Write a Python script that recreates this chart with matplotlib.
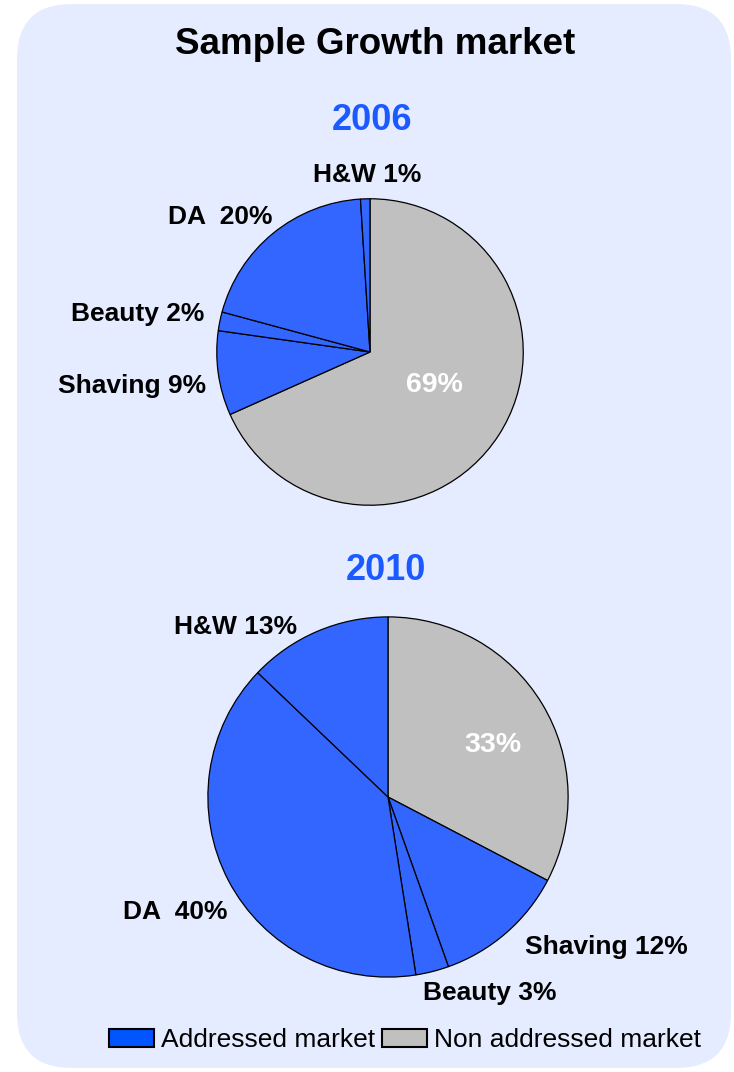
"""Sample Growth market: addressed vs non addressed market shares, 2006 and 2010."""
import matplotlib

matplotlib.use("Agg")
import matplotlib.pyplot as plt
from matplotlib.patches import FancyBboxPatch, Patch
from matplotlib.transforms import IdentityTransform

plt.rcParams["font.family"] = ["Liberation Sans", "DejaVu Sans"]

W, H = 734, 1072

# Slices, clockwise from 12 o'clock
SEGMENTS = ["Non addressed", "Shaving", "Beauty", "DA", "H&W"]
SHARE_2006 = [69, 9, 2, 20, 1]
SHARE_2010 = [33, 12, 3, 40, 13]
LABELS_2006 = ["69%", "Shaving 9%", "Beauty 2%", "DA  20%", "H&W 1%"]
LABELS_2010 = ["33%", "Shaving 12%", "Beauty 3%", "DA  40%", "H&W 13%"]
LEGEND_LABELS = ["Addressed market", "Non addressed market"]

BLUE = "#3366FF"
GRAY = "#C0C0C0"
LEGEND_BLUE = "#0055FF"
BG = "#E6ECFF"
YEAR_BLUE = "#1A5AFF"


def fx(x):
    return x / W


def fy(y):
    return 1 - y / H


def pie_axes(fig, cx, cy, r):
    ax = fig.add_axes([fx(cx - r), fy(cy + r), 2 * r / W, 2 * r / H])
    ax.axis("off")
    return ax


def draw_pie(ax, shares):
    colors = [GRAY] + [BLUE] * (len(shares) - 1)
    ax.pie(shares, colors=colors, startangle=90, counterclock=False,
           radius=1, wedgeprops=dict(edgecolor="black", linewidth=0.9))
    ax.set_xlim(-1.005, 1.005)
    ax.set_ylim(-1.005, 1.005)


fig = plt.figure(figsize=(W / 100, H / 100), dpi=100)
fig.patch.set_facecolor("white")

box = FancyBboxPatch((17, 4), 714, 1064,
                     boxstyle="round,pad=0,rounding_size=55",
                     facecolor=BG, edgecolor="none", zorder=-5,
                     transform=IdentityTransform())
fig.patches.append(box)

fig.text(fx(375), fy(45), "Sample Growth market", ha="center", va="center",
         fontsize=26.5, fontweight="bold", color="black")
fig.text(fx(372), fy(120), "2006", ha="center", va="center",
         fontsize=26, fontweight="bold", color=YEAR_BLUE)
fig.text(fx(386), fy(571), "2010", ha="center", va="center",
         fontsize=26, fontweight="bold", color=YEAR_BLUE)

ax1 = pie_axes(fig, 370, 352, 154)
draw_pie(ax1, SHARE_2006)
ax2 = pie_axes(fig, 388, 797, 181)
draw_pie(ax2, SHARE_2010)

lab = dict(fontsize=19, fontweight="bold", color="black", va="center")
inner = dict(fontsize=20.5, fontweight="bold", color="white",
             ha="center", va="center", zorder=10)

# 2006 labels
fig.text(fx(434), fy(385), LABELS_2006[0], **inner)
fig.text(fx(206), fy(386), LABELS_2006[1], ha="right", **lab)
fig.text(fx(204), fy(314), LABELS_2006[2], ha="right", **lab)
fig.text(fx(272), fy(217), LABELS_2006[3], ha="right", **lab)
fig.text(fx(367), fy(175), LABELS_2006[4], ha="center", **lab)

# 2010 labels
fig.text(fx(493), fy(745), LABELS_2010[0], **inner)
fig.text(fx(525), fy(947), LABELS_2010[1], ha="left", **lab)
fig.text(fx(423), fy(993), LABELS_2010[2], ha="left", **lab)
fig.text(fx(228), fy(912), LABELS_2010[3], ha="right", **lab)
fig.text(fx(236), fy(627), LABELS_2010[4], ha="center", **lab)

handles = [
    Patch(facecolor=LEGEND_BLUE, edgecolor="black", linewidth=1.5),
    Patch(facecolor=GRAY, edgecolor="black", linewidth=1.5),
]
fig.legend(handles, LEGEND_LABELS, loc="center",
           bbox_to_anchor=(fx(405), fy(1040)), ncol=2, frameon=False,
           fontsize=19, handlelength=1.7, handleheight=0.66,
           handletextpad=0.28, columnspacing=0.24, borderpad=0,
           borderaxespad=0)

fig.savefig("out.png", dpi=100, facecolor=fig.get_facecolor())
